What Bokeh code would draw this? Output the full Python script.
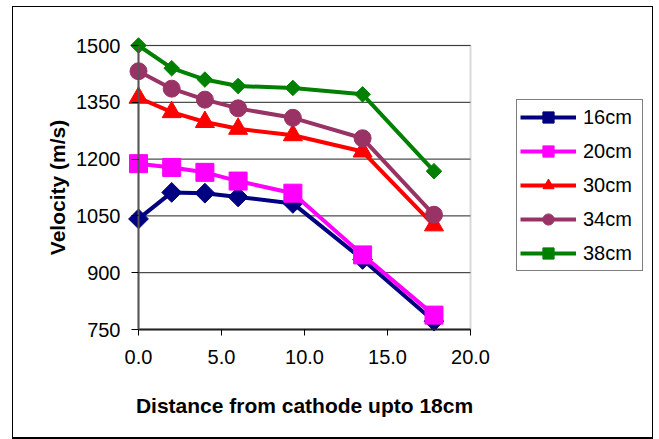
from bokeh.plotting import figure
from bokeh.models import (Range1d, FixedTicker, NumeralTickFormatter, Legend, LegendItem,
                          BoxAnnotation, Label)
from bokeh.embed import file_html
from bokeh.resources import INLINE
import math

# ---- data ----
distance = [0, 2, 4, 6, 9.3, 13.5, 17.8]
v16 = [1042, 1112, 1110, 1100, 1083, 935, 772]
v20 = [1188, 1178, 1165, 1142, 1110, 947, 788]
v30 = [1362, 1324, 1298, 1280, 1263, 1220, 1025]
v34 = [1432, 1386, 1357, 1334, 1309, 1255, 1053]
v38 = [1500, 1440, 1410, 1393, 1388, 1371, 1168]
series_labels = ["16cm", "20cm", "30cm", "34cm", "38cm"]
x_ticks = [0, 5, 10, 15, 20]
y_ticks = [750, 900, 1050, 1200, 1350, 1500]
x_min, x_max = 0, 20
y_min, y_max = 750, 1500
x_title = "Distance from cathode upto 18cm"
y_title = "Velocity (m/s)"

FONT = "Liberation Sans"
W, H = 659, 439
# plot area in page pixels
PA_L, PA_R, PA_T, PA_B = 138, 470, 45, 329
kx = (x_max - x_min) / (PA_R - PA_L)
ky = (y_max - y_min) / (PA_B - PA_T)

# the frame fills the whole canvas so that nothing is clipped
p = figure(width=W, height=H, output_backend="svg", toolbar_location=None,
           x_range=Range1d(x_min - PA_L * kx, x_max + (W - PA_R) * kx),
           y_range=Range1d(y_min - (H - PA_B) * ky, y_max + PA_T * ky),
           min_border_left=0, min_border_right=0, min_border_top=0, min_border_bottom=0)

# outer chart frame drawn with CSS shadows on the plot host (canvas is transparent)
p.border_fill_color = None
p.background_fill_color = None
p.outline_line_color = None
p.styles = {
    "background-color": "white",
    "box-shadow": ("inset 12px 0 0 0 white, inset 0 6px 0 0 white, inset -6px 0 0 0 white, "
                   "inset 13px 0 0 0 black, inset 0 7px 0 0 black, inset -7px 0 0 0 black, "
                   "inset 0 -2px 0 0 black"),
}

# axes pinned at the plot-area edges
p.xaxis.fixed_location = y_min
p.yaxis.fixed_location = x_min
p.xaxis.ticker = FixedTicker(ticks=x_ticks)
p.yaxis.ticker = FixedTicker(ticks=y_ticks)
p.xaxis.formatter = NumeralTickFormatter(format="0.0")
p.yaxis.formatter = NumeralTickFormatter(format="0")
p.xaxis.bounds = (x_min, x_max)
p.yaxis.bounds = (y_min, y_max)
for ax in (p.xaxis, p.yaxis):
    ax.major_label_text_font = FONT
    ax.major_label_text_font_size = "20px"
    ax.major_label_text_color = "black"
    ax.minor_tick_line_color = None
    ax.major_tick_in = 0
    ax.axis_line_width = 2
    ax.major_tick_line_width = 1
p.xaxis.axis_line_color = "#222222"
p.yaxis.axis_line_color = "#555555"
p.xaxis.major_tick_out = 6
p.yaxis.major_tick_out = 7
p.xaxis.major_label_standoff = 14
p.yaxis.major_label_standoff = 11

# horizontal grid lines only across the plot area
p.xgrid.grid_line_color = None
p.ygrid.grid_line_color = None
p.segment(x0=[x_min] * len(y_ticks), x1=[x_max] * len(y_ticks), y0=y_ticks, y1=y_ticks,
          line_color="#222222", line_width=1, level="underlay")

# plot-area border (gray)
p.add_layout(BoxAnnotation(left=x_min, right=x_max, bottom=y_min, top=y_max,
                           fill_alpha=0, line_color="#808080", line_width=2,
                           level="underlay"))

# axis titles (screen y measured from the bottom of the canvas)
p.add_layout(Label(x=(PA_L + PA_R) / 2, y=H - 405, x_units="screen", y_units="screen",
                   text=x_title, text_align="center", text_baseline="alphabetic",
                   text_font=FONT, text_font_size="21px", text_font_style="bold",
                   text_color="black"))
p.add_layout(Label(x=57, y=H - (PA_T + PA_B) / 2, x_units="screen", y_units="screen",
                   text=y_title, angle=math.pi / 2, text_align="center",
                   text_baseline="alphabetic",
                   text_font=FONT, text_font_size="21px", text_font_style="bold",
                   text_color="black"))

# series
specs = [
    (v16, "#000080", "square", 14, math.pi / 4),
    (v20, "#FF00FF", "square", 18, 0),
    (v30, "#FF0000", "triangle", 19, 0),
    (v34, "#993366", "circle", 17, 0),
    (v38, "#008000", "square", 11, math.pi / 4),
]
items = []
for (vals, col, mk, sz, ang), lab in zip(specs, series_labels):
    ln = p.line(distance, vals, line_color=col, line_width=4)
    sc = p.scatter(distance, vals, marker=mk, size=sz, angle=ang,
                   fill_color=col, line_color=col)
    items.append(LegendItem(label=lab, renderers=[ln, sc]))

legend = Legend(items=items, location=(516, H - 271))
legend.margin = 0
legend.label_text_font = FONT
legend.label_text_font_size = "20px"
legend.label_text_color = "black"
legend.glyph_width = 56
legend.glyph_height = 28
legend.spacing = 6
legend.padding = 3
legend.label_standoff = 7
legend.label_width = 56
legend.border_line_color = "black"
legend.border_line_width = 1
legend.background_fill_color = "white"
legend.background_fill_alpha = 1
p.add_layout(legend, "center")

open("out.html", "w").write(file_html(p, INLINE))
